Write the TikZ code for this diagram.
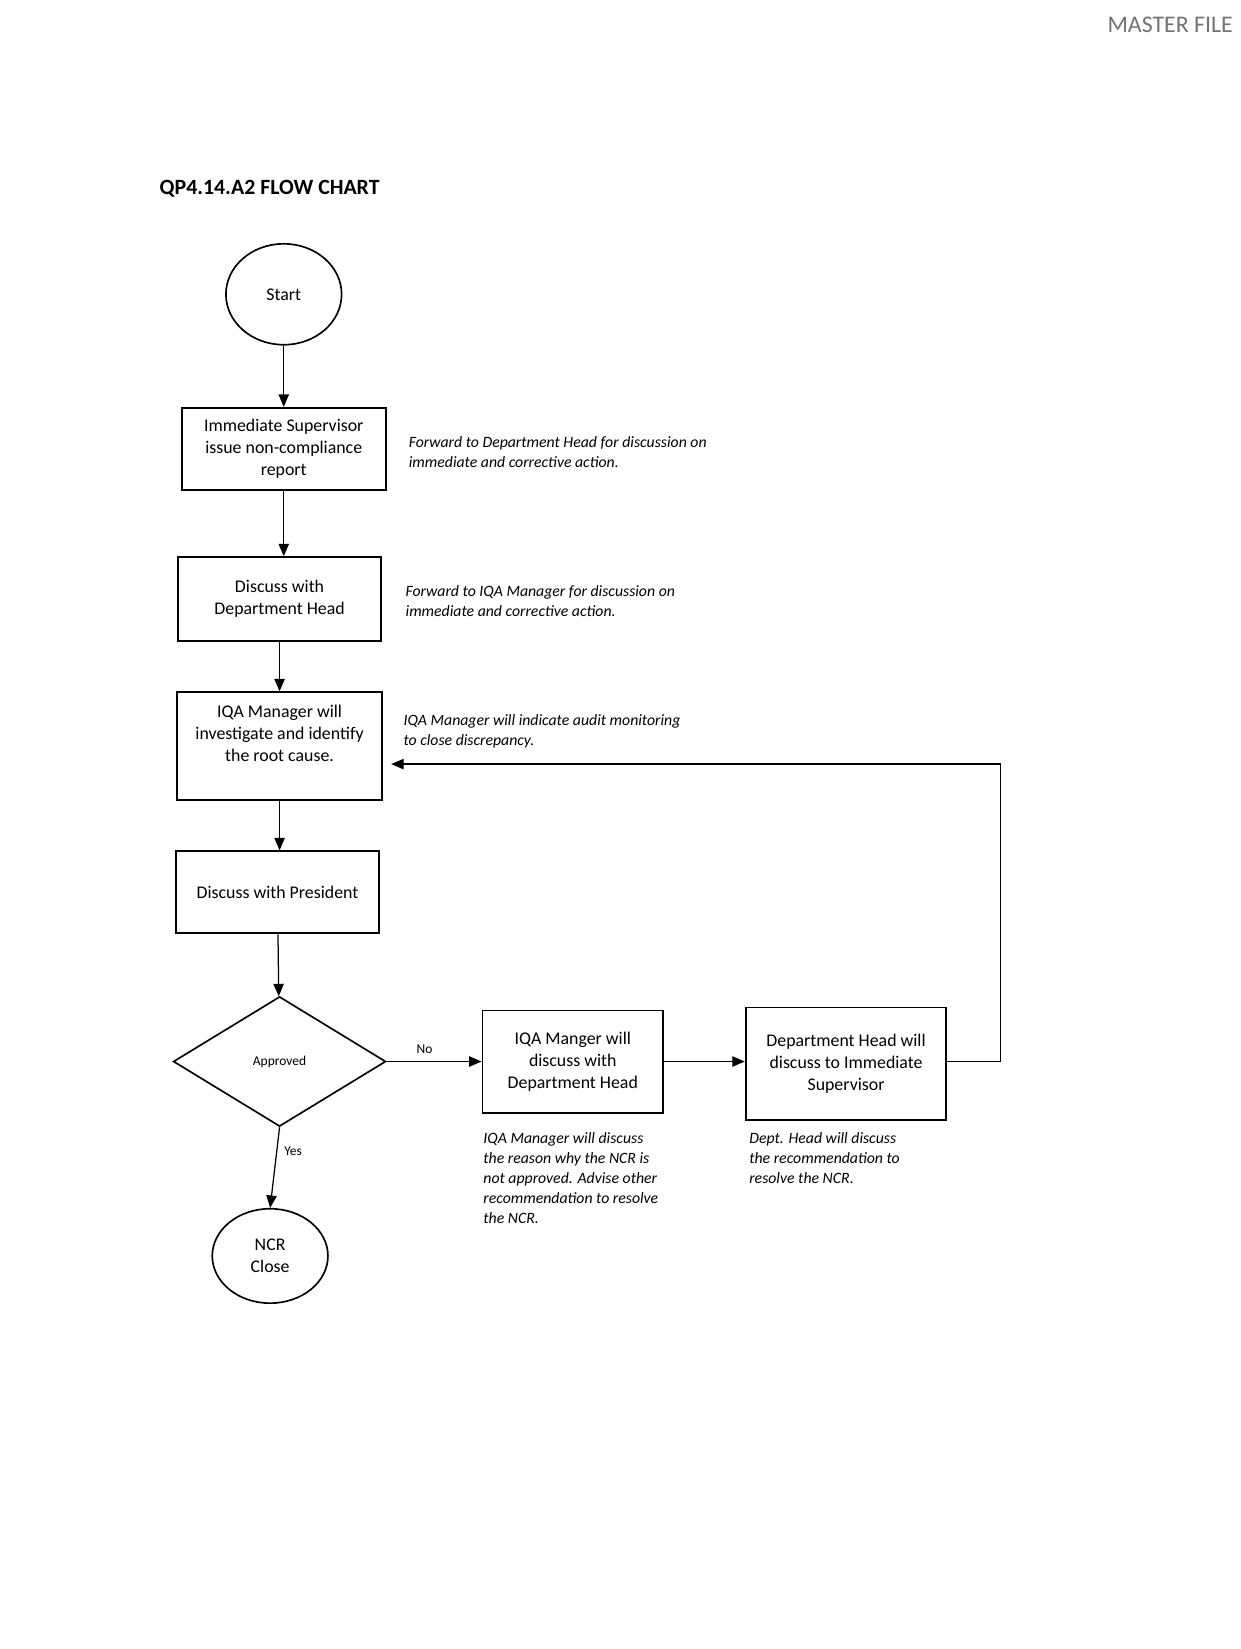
\documentclass[tikz,border=0pt]{standalone}
\usepackage{fontspec}
\setmainfont{Carlito}
\usetikzlibrary{shapes.geometric,arrows.meta}
\begin{document}
\begin{tikzpicture}[x=0.0178cm,y=-0.0178cm,
  every node/.style={font=\fontsize{8.6}{10.6}\selectfont},
  procbox/.style={draw, line width=0.9pt, align=center, inner sep=2pt},
  termnode/.style={draw, ellipse, line width=0.8pt, align=center, inner sep=0pt},
  decnode/.style={draw, diamond, line width=0.8pt, inner sep=0pt, minimum width=3.6cm, minimum height=2.2cm},
  note/.style={align=left, anchor=west, font=\fontsize{7.6}{9.6}\selectfont\itshape},
  lbl/.style={font=\fontsize{6.5}{8}\selectfont},
  arr/.style={-{Triangle[width=5pt,length=6pt]}, line width=0.6pt}]
\useasboundingbox (0,0) rectangle (1180,1569);
% header
\node[anchor=west, font=\fontsize{10.5}{12}\selectfont\bfseries] (title) at (145,180) {QP4.14.A2 FLOW CHART};
\node[anchor=east, text=black!55, font=\fontsize{11.5}{13}\selectfont] (master) at (1180,24) {MASTER FILE};
% main column
\node[termnode, minimum width=1.96cm, minimum height=1.71cm] (start) at (270,280) {Start};
\node[procbox, minimum width=3.45cm, minimum height=1.39cm] (report) at (270,427) {Immediate Supervisor\\issue non-compliance\\report};
\node[procbox, minimum width=3.44cm, minimum height=1.42cm] (dhead) at (266,570) {Discuss with\\Department Head};
\node[procbox, minimum width=3.47cm, minimum height=1.83cm] (iqa) at (266,710) {IQA Manager will\\investigate and identify\\the root cause.\\[0.05cm]};
\node[procbox, minimum width=3.45cm, minimum height=1.39cm] (pres) at (264,849) {Discuss with President};
\node[decnode] (appr) at (266,1010) {};
\node[lbl] (apprtxt) at (appr.center) {Approved};
\node[termnode, minimum width=1.96cm, minimum height=1.6cm] (close) at (257,1195) {NCR\\Close};
% right branch
\node[procbox, minimum width=3.06cm, minimum height=1.73cm] (iqadh) at (545,1010) {IQA Manger will\\discuss with\\Department Head};
\node[procbox, minimum width=3.40cm, minimum height=1.90cm] (dhsup) at (805,1012) {Department Head will\\discuss to Immediate\\Supervisor};
% notes
\node[note] (n1) at (382,430) {Forward to Department Head for discussion on\\immediate and corrective action.};
\node[note] (n2) at (379,572) {Forward to IQA Manager for discussion on\\immediate and corrective action.};
\node[note] (n3) at (377,696) {IQA Manager will indicate audit monitoring\\to close discrepancy.};
\node[note, anchor=north west] (n5) at (453,1071) {IQA Manager will discuss\\the reason why the NCR is\\not approved. Advise other\\recommendation to resolve\\the NCR.};
\node[note, anchor=north west] (n6) at (706,1071) {Dept. Head will discuss\\the recommendation to\\resolve the NCR.};
% connectors
\draw[arr] (start) -- (report);
\draw[arr] (report) -- (report |- dhead.north);
\draw[arr] (dhead) -- (dhead |- iqa.north);
\draw[arr] (iqa) -- (iqa |- pres.north);
\draw[arr] (pres) -- (appr);
\draw[arr] (appr.east) -- node[lbl, above, pos=0.4] (no) {No} (iqadh.west);
\draw[arr] (appr.south) -- node[lbl, right, pos=0.3] (yes) {Yes} (close.north);
\draw[arr] (iqadh.east) -- (iqadh.east -| dhsup.west);
\coordinate (fbk) at (952,727);
\draw[arr, shorten >=4pt] (iqadh.east -| dhsup.east) -- (iqadh.east -| fbk) -- (fbk) -- (iqa.east |- fbk);
\end{tikzpicture}
\end{document}
